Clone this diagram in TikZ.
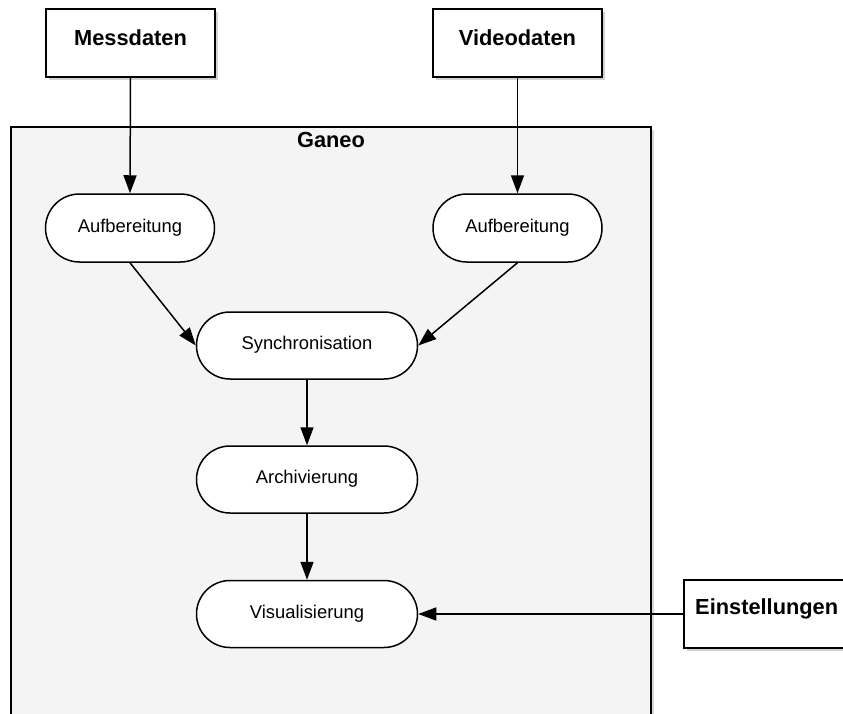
\documentclass[tikz,border=0pt]{standalone}
\usepackage{fontspec}
\setmainfont{Liberation Sans}
\usetikzlibrary{arrows.meta,shadows,shapes.misc}
\definecolor{panelgray}{RGB}{244,244,244}
\tikzset{
  extbox/.style={draw=black, line width=1.8pt, fill=white, rectangle,
    minimum width=169pt, minimum height=68pt, inner sep=0pt,
    drop shadow={shadow xshift=3pt, shadow yshift=-3pt, fill=black!35}},
  procbox/.style={draw=black, line width=1.5pt, fill=white, rounded rectangle,
    rounded rectangle arc length=180, inner sep=0pt, minimum height=68pt},
  boldtext/.style={anchor=base, inner sep=0pt, font=\fontsize{21.8}{26}\selectfont\bfseries},
  plaintext/.style={anchor=base, inner sep=0pt, font=\fontsize{18.4}{22}\selectfont},
  flow/.style={line width=1.5pt, -{Triangle[length=18pt,width=13pt]}}
}
\begin{document}
\begin{tikzpicture}[x=1pt,y=-1pt]
\useasboundingbox (0,0) rectangle (843,713);
\clip (0,0) rectangle (843,713);
% container
\node[draw=black, line width=1.8pt, fill=panelgray, rectangle, inner sep=0pt,
  minimum width=640pt, minimum height=610pt,
  drop shadow={shadow xshift=3pt, shadow yshift=-3pt, fill=black!30}]
  (ganeo) at (331,432) {};
\node[boldtext] (ganeolbl) at (331,147) {Ganeo};
% external boxes
\node[extbox] (mess) at (130.5,43) {};
\node[boldtext] (messlbl) at (130.5,45) {Messdaten};
\node[extbox] (video) at (517.5,43) {};
\node[boldtext] (videolbl) at (517.5,45) {Videodaten};
\node[extbox] (einst) at (768.5,614) {};
\node[boldtext, anchor=base west] (einstlbl) at (695,614) {Einstellungen};
% process nodes
\node[procbox, minimum width=169pt] (auf1) at (130,228) {};
\node[plaintext] (auf1lbl) at (130,232) {Aufbereitung};
\node[procbox, minimum width=169pt] (auf2) at (517.5,228) {};
\node[plaintext] (auf2lbl) at (517.5,232) {Aufbereitung};
\node[procbox, minimum width=221pt, minimum height=67pt] (sync) at (307,345.5) {};
\node[plaintext] (synclbl) at (307,349) {Synchronisation};
\node[procbox, minimum width=221pt, minimum height=67pt] (arch) at (307,479.5) {};
\node[plaintext] (archlbl) at (307,483) {Archivierung};
\node[procbox, minimum width=221pt, minimum height=67pt] (vis) at (307,614) {};
\node[plaintext] (vislbl) at (307,618) {Visualisierung};
% connectors
\draw[flow] (mess.south) -- (auf1.north);
\draw[flow] (video.south) -- (auf2.north);
\draw[flow] (auf1.south) -- (sync.west);
\draw[flow] (auf2.south) -- (sync.east);
\draw[flow] (sync.south) -- (arch.north);
\draw[flow] (arch.south) -- (vis.north);
\draw[flow] (einst.west) -- (vis.east);
\end{tikzpicture}
\end{document}
